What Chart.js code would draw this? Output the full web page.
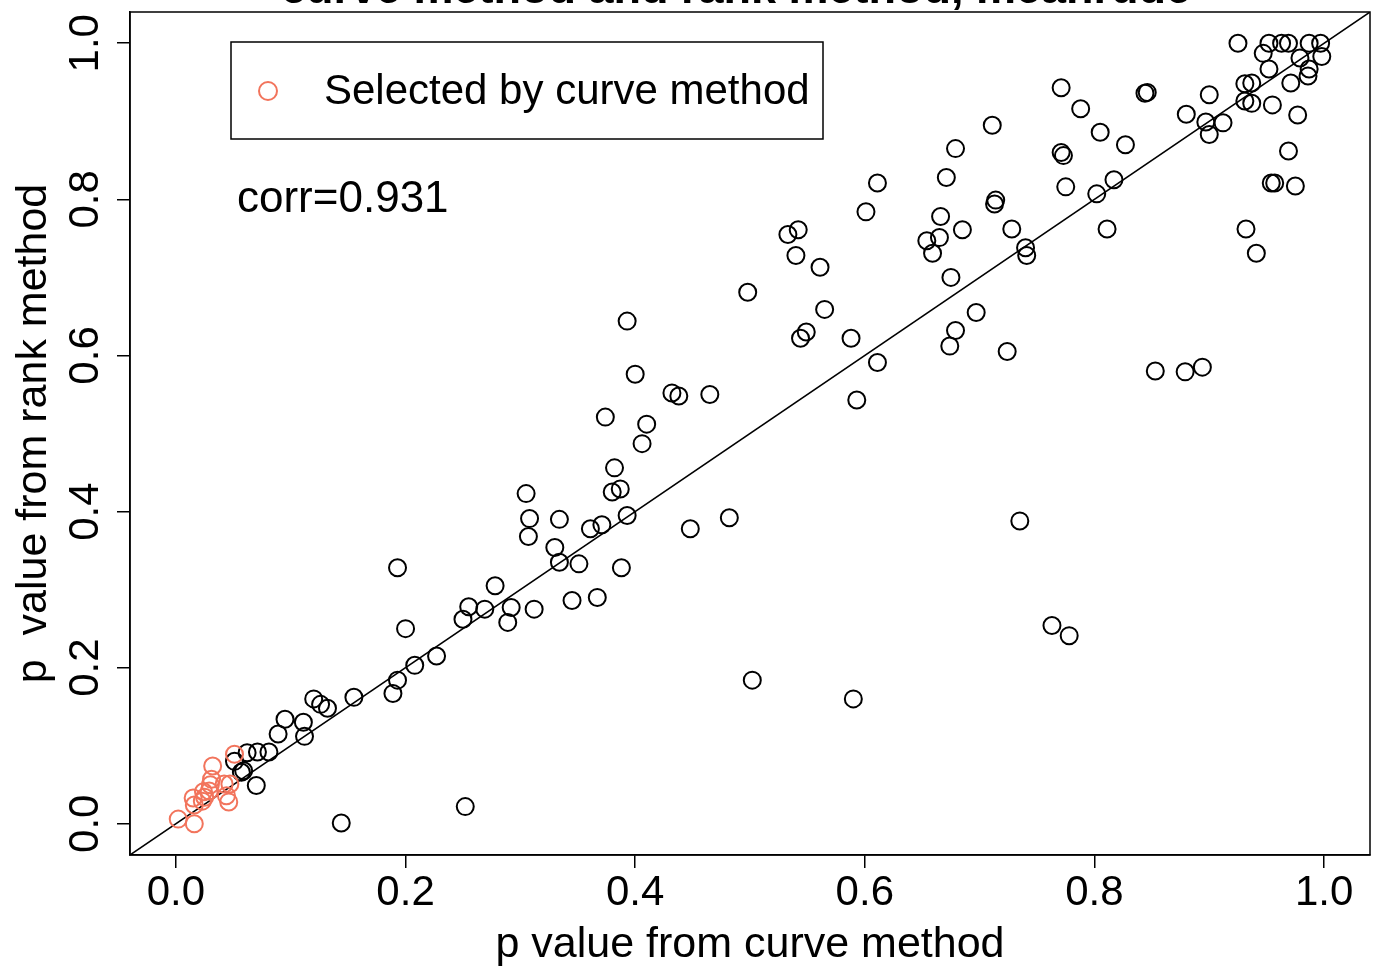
<!DOCTYPE html>
<html>
<head>
<meta charset="utf-8">
<script src="https://cdn.jsdelivr.net/npm/chart.js@4.4.1/dist/chart.umd.min.js"></script>
<style>
  html, body { margin: 0; padding: 0; background: #fff; }
  #wrap { width: 1382px; height: 973px; }
</style>
</head>
<body>
<div id="wrap"><canvas id="scatter" width="1382" height="973"></canvas></div>
<script>
// p values: x = curve method, y = rank method
const curveRed = [0.002, 0.016, 0.015, 0.016, 0.023, 0.024, 0.029, 0.031, 0.030, 0.032, 0.042, 0.047, 0.044, 0.046, 0.051, 0.025];
const rankRed  = [0.006, 0.000, 0.033, 0.024, 0.029, 0.041, 0.042, 0.057, 0.050, 0.074, 0.051, 0.051, 0.036, 0.028, 0.089, 0.034];

const curveBlack = [
  0.144, 0.252, 0.051, 0.057, 0.059, 0.062, 0.071, 0.081, 0.070, 0.089, 0.095, 0.111, 0.112, 0.120, 0.126, 0.132,
  0.155, 0.189, 0.193, 0.208, 0.227, 0.200, 0.193, 0.250, 0.255, 0.269, 0.278, 0.292, 0.289, 0.312, 0.345, 0.367,
  0.330, 0.334, 0.351, 0.388, 0.305, 0.308, 0.307, 0.334, 0.361, 0.371, 0.393, 0.448, 0.482, 0.380, 0.387, 0.382,
  0.374, 0.406, 0.410, 0.400, 0.393, 0.432, 0.438, 0.465, 0.498, 0.502, 0.590, 0.533, 0.542, 0.540, 0.561, 0.549,
  0.544, 0.565, 0.588, 0.593, 0.611, 0.601, 0.611, 0.654, 0.665, 0.659, 0.666, 0.671, 0.679, 0.685, 0.675, 0.679,
  0.674, 0.697, 0.711, 0.713, 0.714, 0.728, 0.724, 0.740, 0.741, 0.735, 0.763, 0.778, 0.771, 0.771, 0.773, 0.775,
  0.788, 0.802, 0.805, 0.811, 0.817, 0.827, 0.844, 0.846, 0.853, 0.879, 0.894, 0.880, 0.900, 0.897, 0.900, 0.912,
  0.925, 0.931, 0.937, 0.931, 0.937, 0.932, 0.941, 0.947, 0.952, 0.952, 0.955, 0.954, 0.957, 0.963, 0.969, 0.969,
  0.971, 0.975, 0.977, 0.979, 0.986, 0.987, 0.987, 0.997, 0.998
];
const rankBlack = [
  0.001, 0.022, 0.080, 0.066, 0.068, 0.091, 0.092, 0.092, 0.049, 0.115, 0.134, 0.130, 0.112, 0.160, 0.153, 0.148,
  0.162, 0.167, 0.184, 0.203, 0.215, 0.250, 0.328, 0.262, 0.278, 0.275, 0.305, 0.277, 0.258, 0.275, 0.286, 0.290,
  0.354, 0.335, 0.333, 0.328, 0.423, 0.391, 0.368, 0.390, 0.378, 0.383, 0.395, 0.378, 0.392, 0.425, 0.429, 0.456,
  0.521, 0.487, 0.512, 0.576, 0.644, 0.552, 0.548, 0.550, 0.681, 0.184, 0.160, 0.755, 0.761, 0.728, 0.713, 0.630,
  0.622, 0.659, 0.622, 0.543, 0.591, 0.784, 0.821, 0.747, 0.751, 0.731, 0.778, 0.828, 0.865, 0.761, 0.700, 0.632,
  0.612, 0.655, 0.895, 0.794, 0.799, 0.762, 0.605, 0.738, 0.728, 0.388, 0.254, 0.241, 0.943, 0.860, 0.856, 0.816,
  0.916, 0.807, 0.886, 0.762, 0.825, 0.870, 0.936, 0.937, 0.580, 0.579, 0.585, 0.909, 0.934, 0.899, 0.883, 0.898,
  1.000, 0.948, 0.949, 0.926, 0.923, 0.762, 0.731, 0.987, 1.000, 0.967, 0.921, 0.821, 0.821, 1.000, 1.000, 0.862,
  0.949, 0.817, 0.908, 0.981, 0.958, 0.967, 1.000, 1.000, 0.983
];

// y = x reference line, end points at the axis limits
const refLine = [-0.04, 1.04];

const axisTicks = [0, 0.2, 0.4, 0.6, 0.8, 1.0];
const corrText = 'corr=0.931';
const legendLabel = 'Selected by curve method';
const titleText = 'curve method and rank method, meanrude';

const FONT = '"Liberation Sans", Arial, Helvetica, sans-serif';
const RED = '#f2745c';

function toPoints(xs, ys) {
  return xs.map((x, i) => ({x: x, y: ys[i]}));
}

// box, y labels (parallel to the axis), legend box, corr note, clipped title
const extras = {
  id: 'extras',
  afterDraw(chart) {
    const ctx = chart.ctx;
    const area = chart.chartArea;
    const yScale = chart.scales.y;
    ctx.save();
    ctx.strokeStyle = '#000';
    ctx.lineWidth = 1.5;
    ctx.strokeRect(area.left, area.top, area.right - area.left, area.bottom - area.top);

    ctx.fillStyle = '#000';
    ctx.font = '42px ' + FONT;
    ctx.textAlign = 'center';
    ctx.textBaseline = 'alphabetic';
    yScale.ticks.forEach(t => {
      const py = yScale.getPixelForValue(t.value);
      ctx.save();
      ctx.translate(98, py);
      ctx.rotate(-Math.PI / 2);
      ctx.fillText(t.value.toFixed(1), 0, 0);
      ctx.restore();
    });

    // legend
    ctx.strokeRect(231, 42, 592, 97);
    ctx.beginPath();
    ctx.strokeStyle = RED;
    ctx.lineWidth = 2;
    ctx.arc(268, 91, 9, 0, Math.PI * 2);
    ctx.stroke();
    ctx.textAlign = 'left';
    ctx.textBaseline = 'middle';
    ctx.fillText(legendLabel, 324, 92);
    ctx.font = '44px ' + FONT;
    ctx.fillText(corrText, 237, 200);

    // title sits mostly above the picture
    ctx.font = 'bold 45px ' + FONT;
    ctx.textAlign = 'center';
    ctx.textBaseline = 'alphabetic';
    ctx.fillText(titleText, 736, 3);
    ctx.restore();
  }
};

const ctx = document.getElementById('scatter');

new Chart(ctx, {
  type: 'scatter',
  data: {
    datasets: [
      {
        label: legendLabel,
        data: toPoints(curveRed, rankRed),
        pointStyle: 'circle',
        pointRadius: 8.5,
        pointBorderWidth: 2,
        pointBorderColor: RED,
        pointBackgroundColor: 'rgba(0,0,0,0)'
      },
      {
        label: 'all',
        data: toPoints(curveBlack, rankBlack),
        pointStyle: 'circle',
        pointRadius: 8.5,
        pointBorderWidth: 2,
        pointBorderColor: '#000',
        pointBackgroundColor: 'rgba(0,0,0,0)'
      },
      {
        type: 'line',
        label: 'y = x',
        data: toPoints(refLine, refLine),
        borderColor: '#000',
        borderWidth: 1.5,
        pointRadius: 0,
        tension: 0
      }
    ]
  },
  options: {
    responsive: false,
    animation: false,
    events: [],
    layout: {
      padding: { top: 12, right: 12, left: 0, bottom: 0 }
    },
    plugins: {
      legend: { display: false },
      tooltip: { enabled: false }
    },
    scales: {
      x: {
        type: 'linear',
        min: -0.04,
        max: 1.04,
        afterBuildTicks: s => { s.ticks = axisTicks.map(v => ({value: v})); },
        afterFit: s => { s.height = 118; },
        ticks: {
          color: '#000',
          font: { size: 42, family: FONT },
          padding: 0,
          maxRotation: 0,
          autoSkip: false,
          callback: v => v.toFixed(1)
        },
        grid: {
          drawOnChartArea: false,
          drawTicks: true,
          tickLength: 13,
          color: '#000',
          lineWidth: 1.5
        },
        border: { display: true, color: '#000', width: 1.5 },
        title: {
          display: true,
          text: 'p value from curve method',
          color: '#000',
          font: { size: 43, family: FONT },
          padding: { top: 0, bottom: 2 }
        }
      },
      y: {
        type: 'linear',
        min: -0.04,
        max: 1.04,
        afterBuildTicks: s => { s.ticks = axisTicks.map(v => ({value: v})); },
        afterFit: s => { s.width = 130; },
        ticks: { display: false },
        grid: {
          drawOnChartArea: false,
          drawTicks: true,
          tickLength: 13,
          color: '#000',
          lineWidth: 1.5
        },
        border: { display: true, color: '#000', width: 1.5 },
        title: {
          display: true,
          text: 'p  value from rank method',
          color: '#000',
          font: { size: 43, family: FONT },
          padding: { top: 8, bottom: 0 }
        }
      }
    }
  },
  plugins: [extras]
});
</script>
</body>
</html>
